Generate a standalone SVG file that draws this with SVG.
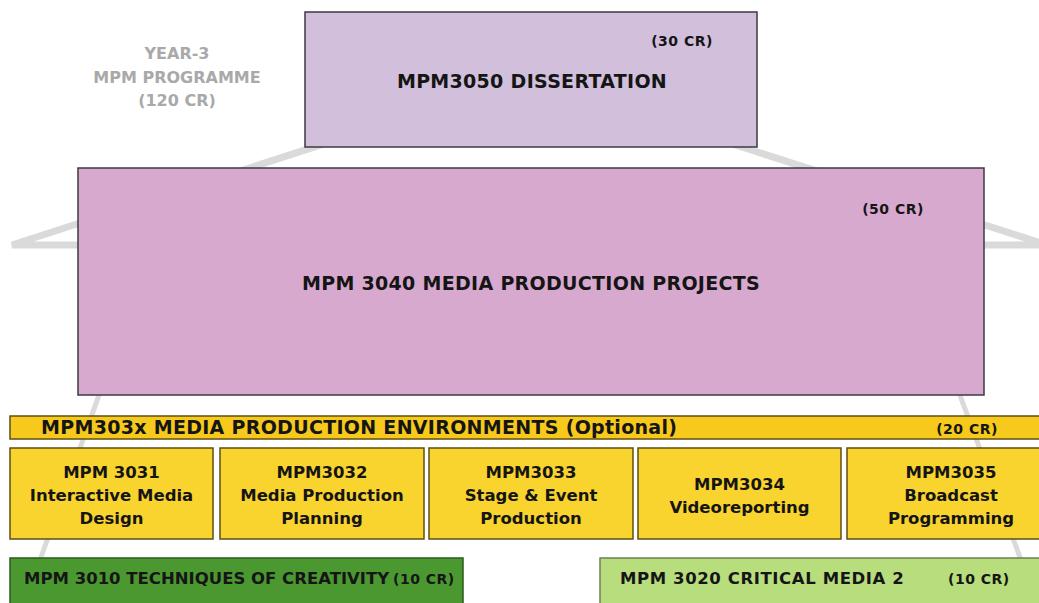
<svg xmlns="http://www.w3.org/2000/svg" width="1039" height="603" viewBox="0 0 1039 603">
  <style>
    .t { font-family: "DejaVu Sans", Verdana, sans-serif; font-weight: bold; fill: #151515; }
    .big { font-size: 19px; letter-spacing: 0.3px; }
    .cr { font-size: 14px; letter-spacing: 0.5px; }
    .mod { font-size: 16.5px; text-anchor: middle; }
    .grn { font-size: 16.5px; }
    .lbl { font-family: "DejaVu Sans", Verdana, sans-serif; font-weight: bold; font-size: 16px; fill: #a9a9a9; text-anchor: middle; }
    .mid { text-anchor: middle; }
    .purple { stroke: #3d3a40; stroke-width: 1.5; }
    .yel { fill: #f9d32e; stroke: #5e4f14; stroke-width: 1.5; }
    .frame { fill: none; stroke: #dadada; }
  </style>

  <rect width="1039" height="603" fill="#ffffff"/>

  <g id="connectors">
    <polygon class="frame" points="527,78 1047,245 12,245" stroke-width="7" stroke-linejoin="bevel"/>
    <line class="frame" x1="153" y1="244" x2="40" y2="560" stroke-width="5"/>
    <line class="frame" x1="904" y1="244" x2="1021" y2="560" stroke-width="5"/>
  </g>

  <g id="label">
    <text class="lbl" x="177" y="59">YEAR-3</text>
    <text class="lbl" x="177" y="83">MPM PROGRAMME</text>
    <text class="lbl" x="177" y="106">(120 CR)</text>
  </g>

  <g id="mpm3050">
    <rect class="purple" x="305" y="12" width="452" height="135" fill="#d1bfdb"/>
    <text class="t big mid" x="532" y="88">MPM3050 DISSERTATION</text>
    <text class="t cr mid" x="682" y="46">(30 CR)</text>
  </g>

  <g id="mpm3040">
    <rect class="purple" x="78" y="168" width="906" height="227" fill="#d8a9ce"/>
    <text class="t big mid" x="531" y="290">MPM 3040 MEDIA PRODUCTION PROJECTS</text>
    <text class="t cr mid" x="893" y="214">(50 CR)</text>
  </g>

  <g id="mpm303x">
    <rect x="10" y="416" width="1045" height="23" fill="#f6c91c" stroke="#5e4f14" stroke-width="1.5"/>
    <text class="t big" x="41" y="434">MPM303x MEDIA PRODUCTION ENVIRONMENTS (Optional)</text>
    <text class="t cr mid" x="967" y="434">(20 CR)</text>
  </g>

  <g id="mpm3031">
    <rect class="yel" x="10" y="448" width="203" height="91"/>
    <text class="t mod" x="111.5" y="478">MPM 3031</text>
    <text class="t mod" x="111.5" y="501">Interactive Media</text>
    <text class="t mod" x="111.5" y="524">Design</text>
  </g>

  <g id="mpm3032">
    <rect class="yel" x="220" y="448" width="204" height="91"/>
    <text class="t mod" x="322" y="478">MPM3032</text>
    <text class="t mod" x="322" y="501">Media Production</text>
    <text class="t mod" x="322" y="524">Planning</text>
  </g>

  <g id="mpm3033">
    <rect class="yel" x="429" y="448" width="204" height="91"/>
    <text class="t mod" x="531" y="478">MPM3033</text>
    <text class="t mod" x="531" y="501">Stage &amp; Event</text>
    <text class="t mod" x="531" y="524">Production</text>
  </g>

  <g id="mpm3034">
    <rect class="yel" x="638" y="448" width="203" height="91"/>
    <text class="t mod" x="739.5" y="490">MPM3034</text>
    <text class="t mod" x="739.5" y="513">Videoreporting</text>
  </g>

  <g id="mpm3035">
    <rect class="yel" x="847" y="448" width="208" height="91"/>
    <text class="t mod" x="951" y="478">MPM3035</text>
    <text class="t mod" x="951" y="501">Broadcast</text>
    <text class="t mod" x="951" y="524">Programming</text>
  </g>

  <g id="mpm3010">
    <rect x="10" y="558" width="453" height="60" fill="#4b9830" stroke="#2d5a1c" stroke-width="1.5"/>
    <text class="t grn" x="24" y="584">MPM 3010 TECHNIQUES OF CREATIVITY</text>
    <text class="t cr" x="393" y="584">(10 CR)</text>
  </g>

  <g id="mpm3020">
    <rect x="600" y="558" width="455" height="60" fill="#b8dd7c" stroke="#6c7f5a" stroke-width="1.5"/>
    <text class="t grn" x="620" y="584" letter-spacing="0.6">MPM 3020 CRITICAL MEDIA 2</text>
    <text class="t cr" x="948" y="584">(10 CR)</text>
  </g>
</svg>
